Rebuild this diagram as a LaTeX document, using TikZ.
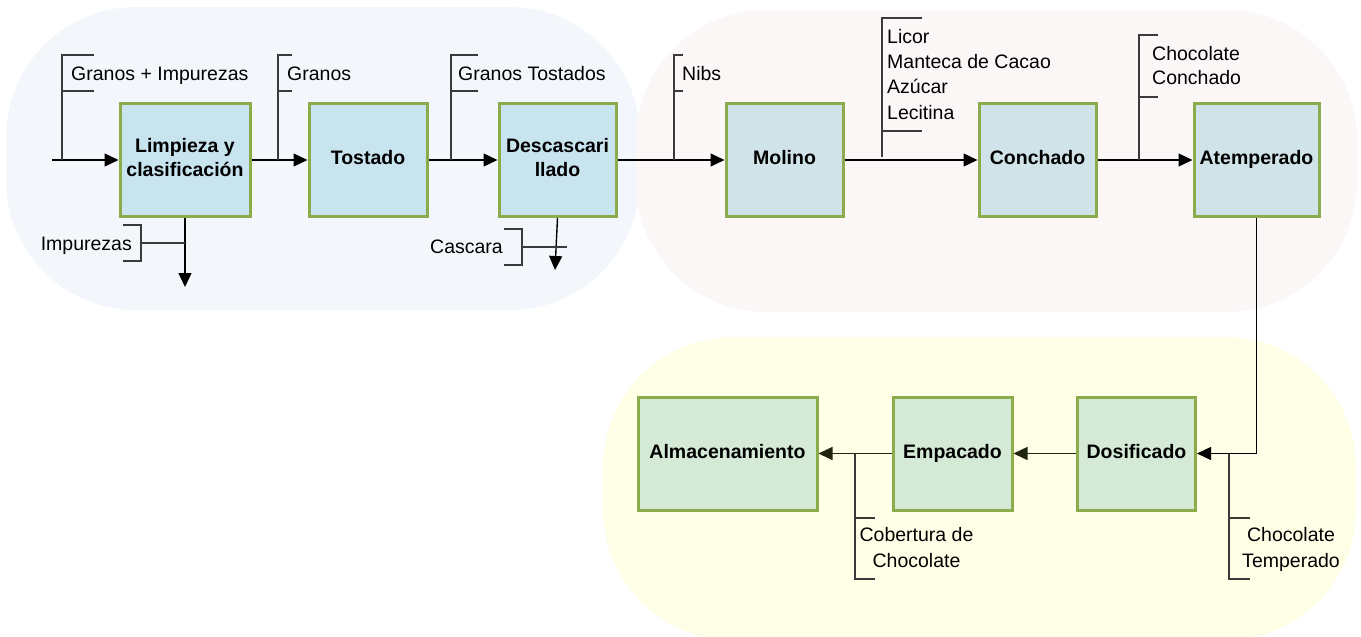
\documentclass[tikz,border=0pt]{standalone}
\usepackage{fontspec}
\setmainfont{Liberation Sans}
\usetikzlibrary{arrows.meta}

\definecolor{bgBlue}{HTML}{F3F7FC}
\definecolor{bgPink}{HTML}{FBF7F6}
\definecolor{bgYellow}{HTML}{FFFFE8}
\definecolor{fillBlue}{HTML}{C8E4EF}
\definecolor{fillPink}{HTML}{CFE3E8}
\definecolor{fillYellow}{HTML}{D5E9D7}
\definecolor{boxEdge}{HTML}{8CAC4C}
\definecolor{brkGray}{HTML}{3A3A3A}
\definecolor{darkOlive}{HTML}{20250F}

% uniform line height inside the process boxes
\newcommand\boxstrut{\rule[-5pt]{0pt}{19pt}}

\tikzset{
  proc/.style={draw=boxEdge, line width=3pt, minimum height=113pt, inner sep=0pt,
    align=center, font=\fontsize{19.5}{24}\selectfont\bfseries,
    execute at begin node=\boxstrut, execute at end node=\boxstrut},
  flow/.style={line width=1.4pt, -{Triangle[length=14pt,width=13pt]}},
  brk/.style={line width=1.1pt, draw=brkGray},
  lbl/.style={inner sep=0pt, font=\fontsize{19.5}{25}\selectfont},
  zone/.style={rounded corners=130pt}
}

\begin{document}
\begin{tikzpicture}[x=1pt, y=-1pt]
\useasboundingbox (0,0) rectangle (1361,637);

% stage backgrounds
\fill[bgBlue, zone] (6,7) rectangle (640,310);
\fill[bgPink, zone] (636,10) rectangle (1357,312);
\fill[bgYellow, zone] (603,337) rectangle (1356,640);

% process boxes, top row
\node[proc, fill=fillBlue, minimum width=130pt] (limp) at (185,160) {Limpieza y\\clasificación};
\node[proc, fill=fillBlue, minimum width=118pt] (tost) at (368,160) {Tostado};
\node[proc, fill=fillBlue, minimum width=117pt] (desc) at (557.5,160) {Descascari\\llado};
\node[proc, fill=fillPink, minimum width=117pt] (moli) at (784.5,160) {Molino};
\node[proc, fill=fillPink, minimum width=117pt] (conc) at (1037.5,160) {Conchado};
\node[proc, fill=fillPink, minimum width=125pt] (atem) at (1256.5,160) {Atemperado};

% process boxes, bottom row
\node[proc, fill=fillYellow, minimum width=118pt] (dosi) at (1136.5,453.5) {Dosificado};
\node[proc, fill=fillYellow, minimum width=119pt] (empa) at (952.5,453.5) {Empacado};
\node[proc, fill=fillYellow, minimum width=179pt] (alma) at (727.5,453.5) {Almacenamiento};

% free ends
\coordinate (start) at (52,160);
\path (limp.south) ++(0,69) coordinate (impEnd);
\coordinate (cascEnd) at (555,270);

% main flow
\draw[flow] (start) -- (limp.west);
\draw[flow] (limp.east) -- (tost.west);
\draw[flow] (tost.east) -- (desc.west);
\draw[flow] (desc.east) -- (moli.west);
\draw[flow] (moli.east) -- (conc.west);
\draw[flow] (conc.east) -- (atem.west);
\draw[flow] (atem.south) |- (dosi.east);
\draw[flow, darkOlive] (dosi.west) -- (empa.east);
\draw[flow, darkOlive] (empa.west) -- (alma.east);
\draw[flow] (limp.south) -- (impEnd);
\draw[flow] (desc.south) -- (cascEnd);

% stream labels
\node[lbl, anchor=base west] (gImp) at (71,80) {Granos + Impurezas};
\node[lbl, anchor=base west] (gran) at (287,80) {Granos};
\node[lbl, anchor=base west] (gTos) at (458,80) {Granos Tostados};
\node[lbl, anchor=base west] (nibs) at (682,80) {Nibs};
\node[lbl, anchor=base west] (lic1) at (887,43) {Licor};
\node[lbl, anchor=base west] (lic2) at (887,68) {Manteca de Cacao};
\node[lbl, anchor=base west] (lic3) at (887,93) {Azúcar};
\node[lbl, anchor=base west] (lic4) at (887,119) {Lecitina};
\node[lbl, anchor=base west] (cc1) at (1152,60) {Chocolate};
\node[lbl, anchor=base west] (cc2) at (1152,84) {Conchado};
\node[lbl, anchor=base] (cob1) at (916.5,541) {Cobertura de};
\node[lbl, anchor=base] (cob2) at (916.5,567) {Chocolate};
\node[lbl, anchor=base] (ct1) at (1291,541) {Chocolate};
\node[lbl, anchor=base] (ct2) at (1291,567) {Temperado};
\node[lbl, anchor=base east] (impu) at (132,250) {Impurezas};
\node[lbl, anchor=base east] (casc) at (503,253) {Cascara};

% label brackets
\draw[brk] (94,55) -- (62,55) -- (62,160);
\draw[brk] (62,91) -- (94,91);
\draw[brk] (292,55) -- (278,55) -- (278,160);
\draw[brk] (278,91) -- (292,91);
\draw[brk] (478,55) -- (451,55) -- (451,160);
\draw[brk] (451,91) -- (478,91);
\draw[brk] (683,55) -- (674,55) -- (674,160);
\draw[brk] (674,91) -- (683,91);
\draw[brk] (922,18) -- (882,18) -- (882,157);
\draw[brk] (882,131) -- (922,131);
\draw[brk] (1158,35) -- (1139,35) -- (1139,160);
\draw[brk] (1139,97) -- (1158,97);
\draw[brk] (855,454) -- (855,579) -- (875,579);
\draw[brk] (855,518) -- (875,518);
\draw[brk] (1229,454) -- (1229,579) -- (1250,579);
\draw[brk] (1229,518) -- (1250,518);
\draw[brk] (123,225) -- (141,225) -- (141,261) -- (123,261);
\draw[brk] (141,243) -- (185,243);
\draw[brk] (504,229) -- (522,229) -- (522,265) -- (504,265);
\draw[brk] (522,247) -- (567,247);
\end{tikzpicture}
\end{document}
